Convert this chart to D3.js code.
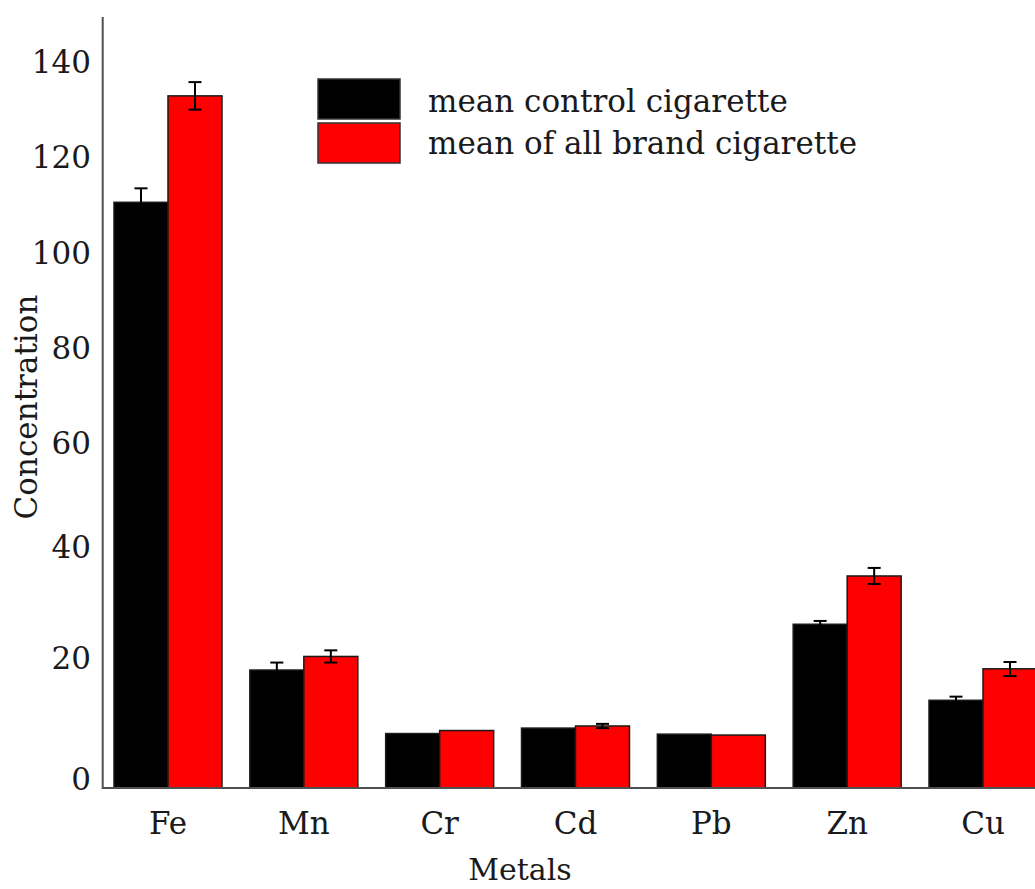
<!DOCTYPE html>
<html>
<head>
<meta charset="utf-8">
<script src="https://cdn.jsdelivr.net/npm/d3@7"></script>
<style>
  html, body { margin: 0; padding: 0; background: #fff; }
  svg { display: block; }
  text { font-family: "DejaVu Serif", serif; fill: #1a1a1a; }
</style>
</head>
<body>
<svg id="chart" width="1035" height="889"></svg>
<script>
// ---- data ----
const metals = ["Fe", "Mn", "Cr", "Cd", "Pb", "Zn", "Cu"];
const seriesNames = ["mean control cigarette", "mean of all brand cigarette"];
const controlMean = [112.4, 19.5, 9.0, 9.9, 8.9, 27.7, 14.5];
const controlErr  = [2.9, 1.3, 0, 0, 0, 0.6, 0.6];
const brandMean   = [134.7, 21.9, 9.5, 10.25, 8.75, 36.4, 19.7];
const brandErr    = [2.9, 1.1, 0, 0.35, 0, 1.45, 1.2];
const yTicks = [0, 20, 40, 60, 80, 100, 120, 140];

// ---- layout ----
const svg = d3.select("#chart");
const axisX = 102.7, baseY = 788, topY = 17;
// the printed axis is non-uniformly calibrated: piecewise-linear scale through its tick marks
const yDomain = [0, 20, 40, 60, 80, 100, 120, 140, 151.3];
const yRange  = [788, 667, 556, 452, 356.5, 262, 165.7, 70.7, 17];
const y = d3.scaleLinear().domain(yDomain).range(yRange);

const x = d3.scaleBand().domain(metals).range([114, 1037]).paddingInner(0.205).paddingOuter(0);
const xs = d3.scaleBand().domain([0, 1]).range([0, x.bandwidth()]);
const colors = ["#000000", "#ff0000"];

const series = [
  { mean: controlMean, err: controlErr },
  { mean: brandMean, err: brandErr }
];

const g = svg.append("g");

series.forEach((s, si) => {
  const data = metals.map((m, i) => ({ m, v: s.mean[i], e: s.err[i] }));
  g.selectAll(null).data(data).enter().append("rect")
    .attr("x", d => x(d.m) + xs(si))
    .attr("y", d => y(d.v))
    .attr("width", xs.bandwidth())
    .attr("height", d => y(0) - y(d.v))
    .attr("fill", colors[si])
    .attr("stroke", "#1a1a1a")
    .attr("stroke-width", 1.5);
});

// error bars
series.forEach((s, si) => {
  const data = metals.map((m, i) => ({ m, v: s.mean[i], e: s.err[i] })).filter(d => d.e > 0);
  const cx = d => x(d.m) + xs(si) + xs.bandwidth() / 2;
  const eg = g.selectAll(null).data(data).enter().append("g")
    .attr("stroke", "#000").attr("stroke-width", 2);
  eg.append("line").attr("x1", cx).attr("x2", cx)
    .attr("y1", d => y(d.v + d.e)).attr("y2", d => y(d.v - d.e));
  eg.append("line").attr("x1", d => cx(d) - 6.5).attr("x2", d => cx(d) + 6.5)
    .attr("y1", d => y(d.v + d.e)).attr("y2", d => y(d.v + d.e));
  eg.append("line").attr("x1", d => cx(d) - 6.5).attr("x2", d => cx(d) + 6.5)
    .attr("y1", d => y(d.v - d.e)).attr("y2", d => y(d.v - d.e));
});

// axes lines
svg.append("line").attr("x1", axisX).attr("x2", axisX).attr("y1", topY).attr("y2", baseY + 1)
  .attr("stroke", "#505050").attr("stroke-width", 2);
svg.append("line").attr("x1", axisX).attr("x2", 1035).attr("y1", baseY).attr("y2", baseY)
  .attr("stroke", "#505050").attr("stroke-width", 2);

// y tick labels
svg.selectAll(null).data(yTicks).enter().append("text")
  .attr("x", 91).attr("y", d => y(d) - 9)
  .attr("dy", "0.36em")
  .attr("text-anchor", "end")
  .attr("font-size", 31)
  .text(d => d);

// x tick labels
svg.selectAll(null).data(metals).enter().append("text")
  .attr("x", d => x(d) + x.bandwidth() / 2)
  .attr("y", 834)
  .attr("text-anchor", "middle")
  .attr("font-size", 31)
  .text(d => d);

// axis titles
svg.append("text").attr("x", 520).attr("y", 880).attr("text-anchor", "middle")
  .attr("font-size", 30).text("Metals");
svg.append("text").attr("transform", "translate(37,407) rotate(-90)")
  .attr("text-anchor", "middle").attr("font-size", 31).text("Concentration");

// legend
const lg = svg.append("g");
seriesNames.forEach((name, i) => {
  lg.append("rect").attr("x", 318).attr("y", 79 + i * 44).attr("width", 82).attr("height", 40)
    .attr("fill", colors[i]).attr("stroke", "#333").attr("stroke-width", 1.5);
  lg.append("text").attr("x", 428).attr("y", 112 + i * 41.5)
    .attr("font-size", 31).text(name);
});
</script>
</body>
</html>
